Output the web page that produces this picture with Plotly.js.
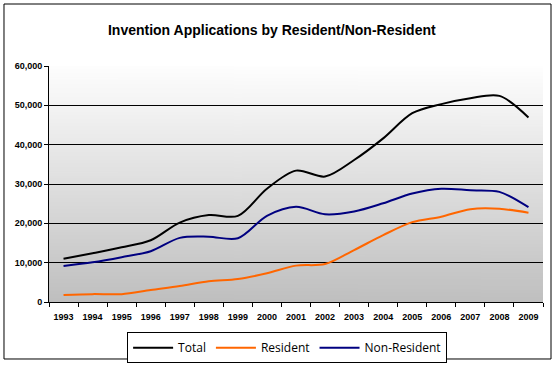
<!DOCTYPE html>
<html>
<head>
<meta charset="utf-8">
<script src="https://cdn.plot.ly/plotly-3.0.1.min.js"></script>
<style>
html,body{margin:0;padding:0;background:#fff;}
#chart{width:557px;height:365px;}
</style>
</head>
<body>
<div id="chart"></div>
<script>
const years = ['1993','1994','1995','1996','1997','1998','1999','2000','2001','2002','2003','2004','2005','2006','2007','2008','2009'];
const total = [11000,12400,13900,15700,20200,22100,21900,28800,33400,31900,36100,41600,48000,50300,51800,52400,46900];
const resident = [1800,2000,2000,3050,4050,5250,5850,7300,9250,9650,13200,17000,20300,21700,23600,23700,22700];
const nonResident = [9150,10100,11400,12900,16300,16600,16200,21900,24200,22300,23000,25100,27600,28800,28400,28000,24100];
const yTicks = [0,10000,20000,30000,40000,50000,60000];
const gridVals = [10000,20000,30000,40000,50000];

// gradient background for plot area
const cv = document.createElement('canvas');
cv.width = 4; cv.height = 256;
const cx = cv.getContext('2d');
const g = cx.createLinearGradient(0,0,0,256);
g.addColorStop(0,'#fefefe');
g.addColorStop(1,'#bfbfbf');
cx.fillStyle = g; cx.fillRect(0,0,4,256);
const bgURL = cv.toDataURL('image/png');

const lineCommon = {type:'scatter', mode:'lines', x: years, hoverinfo:'skip'};
const data = [
  Object.assign({}, lineCommon, {name:'Total', y: total, line:{color:'#000000', width:2, shape:'spline', smoothing:0.9}}),
  Object.assign({}, lineCommon, {name:'Resident', y: resident, line:{color:'#FF6600', width:2, shape:'spline', smoothing:0.9}}),
  Object.assign({}, lineCommon, {name:'Non-Resident', y: nonResident, line:{color:'#000080', width:2, shape:'spline', smoothing:0.9}}),
  {type:'scatter', mode:'lines', x:[years[0]], y:[null], yaxis:'y2', showlegend:false, hoverinfo:'skip'}
];

const tickFont = {family:'Liberation Sans, Arial, sans-serif', size:9, color:'#000', weight:'bold'};
const layout = {
  width:557, height:365,
  margin:{l:49, r:14, t:66, b:63, autoexpand:false},
  paper_bgcolor:'#ffffff',
  plot_bgcolor:'rgba(0,0,0,0)',
  title:{text:'<b>Invention Applications by Resident/Non-Resident</b>',
         font:{family:'Liberation Sans, Arial, sans-serif', size:14, color:'#000'},
         x:0.488, xref:'container', xanchor:'center', y:0.918, yref:'container', yanchor:'middle'},
  xaxis:{type:'category', range:[-0.5,16.5], tickson:'boundaries', ticks:'outside', ticklen:4, tickcolor:'#000',
         showline:true, linecolor:'#000', linewidth:1, showgrid:false, zeroline:false,
         tickfont:tickFont, ticklabelstandoff:6, fixedrange:true},
  yaxis:{range:[0,60000], tickvals:yTicks, tickformat:',d', ticks:'outside', ticklen:4, tickcolor:'#000',
         showline:true, linecolor:'#000', linewidth:1, showgrid:false, zeroline:false,
         tickfont:tickFont, fixedrange:true},
  yaxis2:{overlaying:'y', range:[0,60000], tickvals:gridVals, showticklabels:false, ticks:'',
          showgrid:true, gridcolor:'#000', gridwidth:1, showline:false, zeroline:false, fixedrange:true},
  showlegend:true,
  legend:{orientation:'h', x:0.482, xanchor:'center', y:-0.128, yanchor:'top',
          bgcolor:'#ffffff', bordercolor:'#000', borderwidth:1,
          font:{family:'Open Sans, Liberation Sans, sans-serif', size:12, color:'#000'},
          itemwidth:40, tracegroupgap:0},
  images:[{source:bgURL, xref:'paper', yref:'paper', x:0, y:1, sizex:1, sizey:1,
           xanchor:'left', yanchor:'top', sizing:'stretch', layer:'below'}],
  shapes:[{type:'rect', xref:'paper', yref:'paper', x0:-0.0911, x1:1.0162, y0:-0.2415, y1:1.2627,
           line:{color:'#000', width:1}, fillcolor:'rgba(0,0,0,0)', layer:'above'}]
};

Plotly.newPlot('chart', data, layout, {staticPlot:true, displayModeBar:false});
</script>
</body>
</html>
